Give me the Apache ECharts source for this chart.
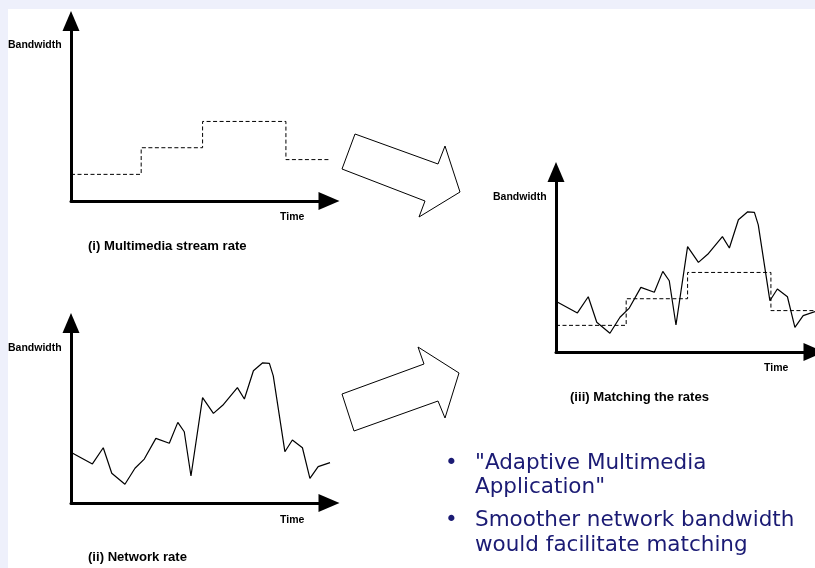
<!DOCTYPE html>
<html>
<head>
<meta charset="utf-8">
<script src="https://cdn.jsdelivr.net/npm/echarts@6/dist/echarts.min.js"></script>
<style>
  html, body { margin: 0; padding: 0; background: #eef0fb; }
  #paper { position: absolute; left: 8px; top: 9px; width: 807px; height: 559px; background: #ffffff; }
  #chart { position: absolute; left: 0; top: 0; width: 815px; height: 568px; }
</style>
</head>
<body>
<div id="paper"></div>
<div id="chart"></div>
<script>
// ---- data (time units, bandwidth units) ----
const streamTime = [0, 27.2, 51.0, 83.3, 102.3];
const streamRate = [14.8, 29.6, 44.2, 23.0, 23.0];

const networkTime = [0.3, 8.3, 12.5, 15.8, 20.9, 24.8, 28.4, 32.9, 38.1, 41.4, 43.9, 46.5, 51.0, 55.2,
  58.8, 64.5, 67.2, 70.7, 74.3, 76.9, 78.4, 82.9, 85.8, 89.7, 92.6, 95.8, 100.4];
const networkRate = [27.9, 21.7, 30.7, 16.5, 10.4, 19.3, 24.4, 35.9, 33.2, 44.8, 39.6, 15.0, 58.5, 49.8,
  54.3, 64.1, 57.8, 73.5, 77.9, 77.6, 70.6, 28.5, 35.0, 30.7, 13.7, 20.2, 22.4];

const axisNameY = 'Bandwidth';
const axisNameX = 'Time';
const panelTitles = ['(i) Multimedia stream rate', '(ii) Network rate', '(iii) Matching the rates'];
const bulletLines = [['"Adaptive Multimedia', 'Application"'], ['Smoother network bandwidth', 'would facilitate matching']];

// ---- build ----
const pairs = (xs, ys) => xs.map((x, i) => [x, ys[i]]);
const grids = [
  { left: 71, top: 21, width: 258, height: 180 },
  { left: 71, top: 323, width: 258, height: 180 },
  { left: 556, top: 172, width: 258, height: 180 }
].map(g => Object.assign({ containLabel: false, outerBoundsMode: 'none' }, g));

function axis(type, gi, arrow) {
  return {
    type: 'value', gridIndex: gi, min: 0, max: 100,
    axisLine: { show: true, onZero: false, symbol: ['none', 'triangle'], symbolSize: arrow,
      lineStyle: { color: '#000', width: 3 } },
    axisTick: { show: false }, axisLabel: { show: false }, splitLine: { show: false }
  };
}
const xAxes = [0, 1, 2].map(i => axis('x', i, [18, 21]));
const yAxes = [0, 1, 2].map(i => axis('y', i, [17, 20]));

const streamStyle = { color: '#000', width: 1, type: [4, 2.5] };
const netStyle = { color: '#000', width: 1.2 };
function lineSeries(i, data, style, step) {
  return { type: 'line', xAxisIndex: i, yAxisIndex: i, data, step: step || false, showSymbol: false,
    clip: false, silent: true, lineStyle: style, animation: false };
}
const series = [
  lineSeries(0, pairs(streamTime, streamRate), streamStyle, 'end'),
  lineSeries(1, pairs(networkTime, networkRate), netStyle),
  lineSeries(2, pairs(networkTime, networkRate), netStyle),
  lineSeries(2, pairs(streamTime, streamRate), streamStyle, 'end')
];

const labFont = 'bold 10.5px "Liberation Sans", Arial, sans-serif';
const titFont = 'bold 13.1px "Liberation Sans", Arial, sans-serif';
function txt(x, y, text, font, fill) {
  return { type: 'text', x, y, silent: true,
    style: { text, font, fill: fill || '#000', textAlign: 'left', textVerticalAlign: 'middle' } };
}
const labelPos = [
  { bw: [8, 45], tm: [280, 217], tt: [88, 246] },
  { bw: [8, 348], tm: [280, 520], tt: [88, 557] },
  { bw: [493, 197], tm: [764, 368], tt: [570, 397] }
];
const graphics = [];
labelPos.forEach((p, i) => {
  graphics.push(txt(p.bw[0], p.bw[1], axisNameY, labFont));
  graphics.push(txt(p.tm[0], p.tm[1], axisNameX, labFont));
  graphics.push(txt(p.tt[0], p.tt[1], panelTitles[i], titFont));
});
// block arrows (decoration)
graphics.push({ type: 'polygon', silent: true,
  shape: { points: [[355, 134], [438, 164], [445, 146], [460, 192], [419, 217], [425, 201], [342, 169]] },
  style: { fill: '#fff', stroke: '#000', lineWidth: 1 } });
graphics.push({ type: 'polygon', silent: true,
  shape: { points: [[342, 394], [424, 364], [418, 347], [459, 373], [445, 418], [438, 401], [354, 431]] },
  style: { fill: '#fff', stroke: '#000', lineWidth: 1 } });
// bullet text
const bulFont = '21.5px "DejaVu Sans", Verdana, sans-serif';
const navy = '#1b1b74';
const bulletY = [[463, 487.5], [520.3, 545.7]];
bulletLines.forEach((lines, bi) => {
  graphics.push(txt(445, bulletY[bi][0], '\u2022', bulFont, navy));
  lines.forEach((l, li) => graphics.push(txt(475, bulletY[bi][li], l, bulFont, navy)));
});

const chart = echarts.init(document.getElementById('chart'), null, { renderer: 'canvas' });
chart.setOption({
  animation: false,
  backgroundColor: 'transparent',
  grid: grids,
  xAxis: xAxes,
  yAxis: yAxes,
  series,
  graphic: { elements: graphics }
});
</script>
</body>
</html>
